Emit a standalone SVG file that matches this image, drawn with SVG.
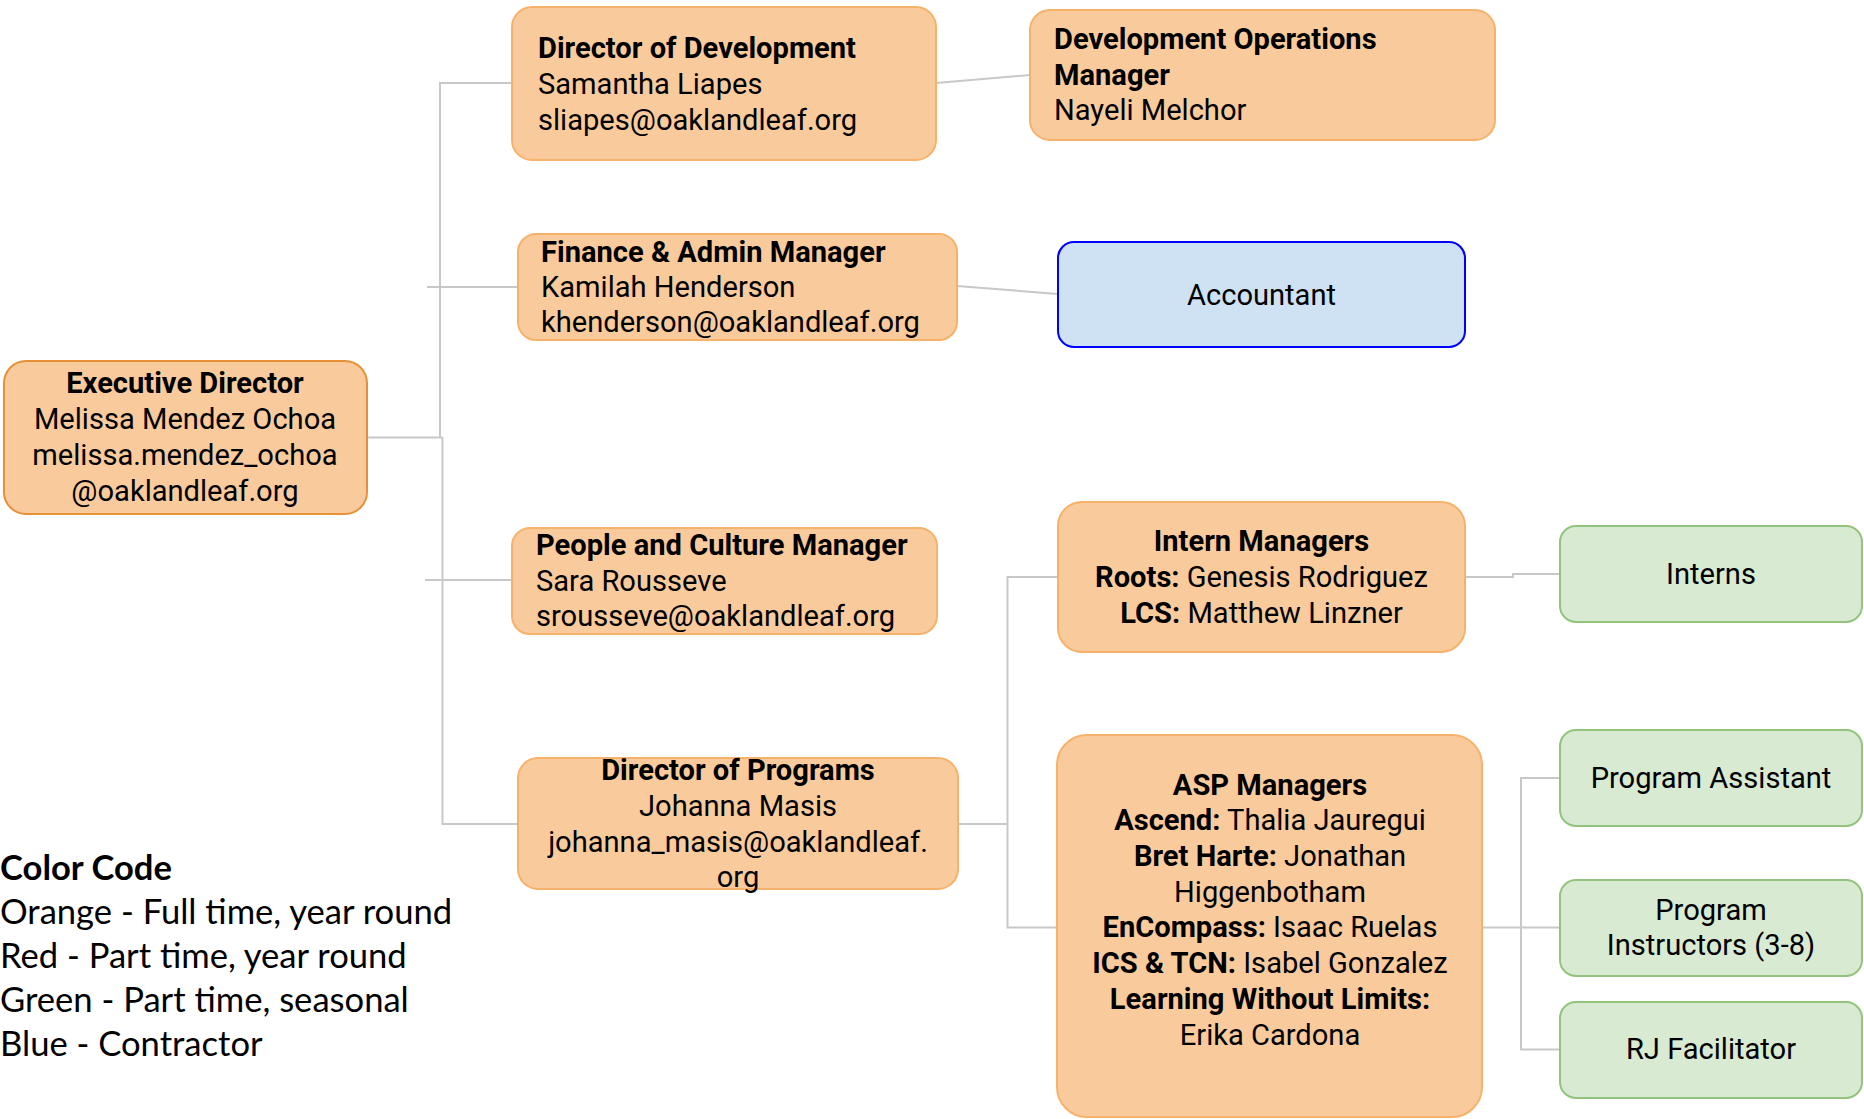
<svg xmlns="http://www.w3.org/2000/svg" width="1864" height="1119" viewBox="0 0 1864 1119">
<style>
.box{fill:#f9cb9c;stroke:#f6b26b;stroke-width:2}
.exec{fill:#f9cb9c;stroke:#e69138;stroke-width:2}
.green{fill:#d9ead3;stroke:#93c47d;stroke-width:2}
.blue{fill:#cfe2f3;stroke:#0000ff;stroke-width:2}
text{font-family:Roboto,"Liberation Sans",sans-serif;font-size:29.1px;fill:#000}
.b{font-weight:bold}
.c{text-anchor:middle}
.conn path{fill:none;stroke:#c8c8c8;stroke-width:2}
.leg{font-family:Lato,"Open Sans",sans-serif;font-size:34.6px}
</style>
<rect width="1864" height="1119" fill="#ffffff"/>
<g class="conn" id="connectors">
<path d="M367,437.5 H442.5"/>
<path d="M440,437.5 V83 H512"/>
<path d="M442.5,437.5 V824 H518"/>
<path d="M427,287 H518"/>
<path d="M425,580 H512"/>
<path d="M936,83 L1030,75"/>
<path d="M957,286 L1058,294"/>
<path d="M958,824 H1007.5"/>
<path d="M1058,577 H1007.5 V927.5 H1058"/>
<path d="M1465.5,577 H1513 V574 H1560"/>
<path d="M1482,927.5 H1560"/>
<path d="M1560,778 H1521 V1049.5 H1560"/>
</g>
<g id="exec">
<rect class="exec" x="4" y="361" width="363" height="153" rx="22"/>
<text class="b c" x="185" y="393">Executive Director</text>
<text class="c" x="185" y="429">Melissa Mendez Ochoa</text>
<text class="c" x="185" y="465">melissa.mendez_ochoa</text>
<text class="c" x="185" y="501">@oaklandleaf.org</text>
</g>
<g id="dir-dev">
<rect class="box" x="512" y="7" width="424" height="153" rx="20"/>
<text class="b" x="538" y="58">Director of Development</text>
<text x="538" y="94">Samantha Liapes</text>
<text x="538" y="129.5">sliapes@oaklandleaf.org</text>
</g>
<g id="dev-ops">
<rect class="box" x="1030" y="10" width="465" height="130" rx="20"/>
<text class="b" x="1054" y="49">Development Operations</text>
<text class="b" x="1054" y="84.5">Manager</text>
<text x="1054" y="120">Nayeli Melchor</text>
</g>
<g id="finance">
<rect class="box" x="518" y="234" width="439" height="106" rx="18"/>
<text class="b" x="541" y="261.5">Finance &amp; Admin Manager</text>
<text x="541" y="297">Kamilah Henderson</text>
<text x="541" y="332">khenderson@oaklandleaf.org</text>
</g>
<g id="accountant">
<rect class="blue" x="1058" y="242" width="407" height="105" rx="16"/>
<text class="c" x="1261.5" y="305">Accountant</text>
</g>
<g id="people">
<rect class="box" x="512" y="528" width="425" height="106" rx="18"/>
<text class="b" x="536" y="555">People and Culture Manager</text>
<text x="536" y="590.5">Sara Rousseve</text>
<text x="536" y="626">srousseve@oaklandleaf.org</text>
</g>
<g id="dir-prog">
<rect class="box" x="518" y="758" width="440" height="131" rx="20"/>
<text class="b c" x="738" y="780">Director of Programs</text>
<text class="c" x="738" y="816">Johanna Masis</text>
<text class="c" x="738" y="851.5">johanna_masis@oaklandleaf.</text>
<text class="c" x="738" y="887">org</text>
</g>
<g id="intern-mgrs">
<rect class="box" x="1058" y="502" width="407" height="150" rx="24"/>
<text class="b c" x="1261.5" y="551">Intern Managers</text>
<text class="c" x="1261.5" y="587"><tspan class="b">Roots:</tspan> Genesis Rodriguez</text>
<text class="c" x="1261.5" y="623"><tspan class="b">LCS:</tspan> Matthew Linzner</text>
</g>
<g id="asp-mgrs">
<rect class="box" x="1057" y="735" width="425" height="382" rx="30"/>
<text class="b c" x="1270" y="794.5">ASP Managers</text>
<text class="c" x="1270" y="830"><tspan class="b">Ascend:</tspan> Thalia Jauregui</text>
<text class="c" x="1270" y="865.5"><tspan class="b">Bret Harte:</tspan> Jonathan</text>
<text class="c" x="1270" y="901.5">Higgenbotham</text>
<text class="c" x="1270" y="937"><tspan class="b">EnCompass:</tspan> Isaac Ruelas</text>
<text class="c" x="1270" y="973"><tspan class="b">ICS &amp; TCN:</tspan> Isabel Gonzalez</text>
<text class="b c" x="1270" y="1008.5">Learning Without Limits:</text>
<text class="c" x="1270" y="1044.5">Erika Cardona</text>
</g>
<g id="interns">
<rect class="green" x="1560" y="526" width="302" height="96" rx="16"/>
<text class="c" x="1711" y="584">Interns</text>
</g>
<g id="prog-assist">
<rect class="green" x="1560" y="730" width="302" height="96" rx="16"/>
<text class="c" x="1711" y="788">Program Assistant</text>
</g>
<g id="prog-instr">
<rect class="green" x="1560" y="880" width="302" height="96" rx="16"/>
<text class="c" x="1711" y="919.5">Program</text>
<text class="c" x="1711" y="955">Instructors (3-8)</text>
</g>
<g id="rj">
<rect class="green" x="1560" y="1002" width="302" height="96" rx="16"/>
<text class="c" x="1711" y="1058.5">RJ Facilitator</text>
</g>
<g id="legend">
<text class="leg b" x="0" y="880">Color Code</text>
<text class="leg" x="0" y="924">Orange - Full time, year round</text>
<text class="leg" x="0" y="968">Red - Part time, year round</text>
<text class="leg" x="0" y="1012">Green - Part time, seasonal</text>
<text class="leg" x="0" y="1056">Blue - Contractor</text>
</g>
</svg>
